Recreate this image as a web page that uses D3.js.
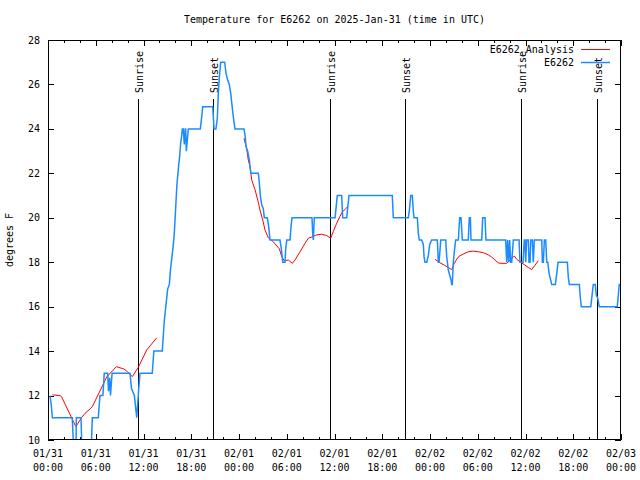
<!DOCTYPE html>
<html><head><meta charset="utf-8">
<script src="https://cdn.jsdelivr.net/npm/d3@7"></script>
<style>
body{margin:0;background:#fff}
text{font-family:"DejaVu Sans Mono",monospace;font-size:10px;fill:#000}
</style>
</head><body><svg id="c" width="640" height="480"></svg>
<script>
const title = "Temperature for E6262 on 2025-Jan-31 (time in UTC)";
const yLabel = "degrees F";
const seriesNames = ["E6262_Analysis", "E6262"];
const yTicks = [10, 12, 14, 16, 18, 20, 22, 24, 26, 28];
const xTickDates = ["01/31","01/31","01/31","01/31","02/01","02/01","02/01","02/01","02/02","02/02","02/02","02/02","02/03"];
const xTickTimes = ["00:00","06:00","12:00","18:00","00:00","06:00","12:00","18:00","00:00","06:00","12:00","18:00","00:00"];
const eventLabels = ["Sunrise","Sunset","Sunrise","Sunset","Sunrise","Sunset"];
const eventHours = [11.31, 20.73, 35.44, 44.86, 59.44, 68.99];

// observations: [hours since 2025-01-31 00:00 UTC, temperature F]
const obsPoints = [
[0.25,12],[0.4,11.6],[0.55,11],[3.05,11],[3.3,9],[3.5,9],[3.56,11],[4.15,11],[4.3,9],[5.37,9],[5.57,11],
[6.32,11],[6.53,12],[6.9,12],[7.07,13],[7.5,13],[7.6,12.2],[7.75,12.8],[7.85,12],[8.05,13],
[10.3,13],[10.5,12.3],[10.85,12],[11.0,11.5],[11.15,11],[11.4,12.3],[11.56,13],[13.1,13],[13.3,14],[14.36,14],
[14.5,14.75],[14.6,15.3],[14.8,16],[15.04,16.8],[15.25,17],[15.4,17.7],[15.58,18.25],[15.75,18.8],[15.87,19.3],
[16.05,20.5],[16.2,21.5],[16.38,22.2],[16.55,22.8],[16.67,23.35],[16.8,23.7],[16.88,24],[17.0,24],[17.13,23.3],
[17.25,24],[17.3,24],[17.38,23],[17.63,24],[19.14,24],[19.3,24.5],[19.44,25],[20.7,25],[20.86,24],[21.1,24],
[21.28,24.5],[21.4,25.6],[21.53,26.35],[21.7,27],[22.2,27],[22.37,26.5],[22.58,26.2],[22.78,26],[22.96,25.6],
[23.08,25.2],[23.2,24.8],[23.37,24.3],[23.5,24],[24.63,24],[24.8,23.6],[24.88,23.2],[25.09,23],[25.3,22.6],
[25.42,22.2],[25.51,22],[26.43,22],[26.55,21.6],[26.68,21],[26.85,20.6],[27.06,20.4],[27.18,20],[27.56,20],
[27.73,19.6],[27.9,19],[29.15,19],[29.32,18.6],[29.49,18],[29.78,18],[29.87,18.6],[30.0,19],[30.41,19],
[30.54,19.6],[30.66,20],[33.17,20],[33.26,19.3],[33.34,19],[33.46,20],[36.07,20],[36.35,21],[36.9,21],
[37.03,20],[37.53,20],[37.82,21],[43.26,21],[43.39,20],[45.27,20],[45.4,20.3],[45.58,21],[45.78,21],
[45.9,20.3],[45.99,20],[46.41,20],[46.53,19.3],[46.66,19],[46.96,19],[47.16,18.8],[47.25,18.25],[47.37,18],
[47.59,18],[47.79,18.3],[47.96,18.8],[48.21,19],[48.92,19],[49.05,18],[49.14,18],[49.35,19],[49.97,19],
[50.1,18.25],[50.3,17.65],[50.64,17.2],[50.73,17],[50.8,17],[50.93,18],[51.06,18.5],[51.23,19],[51.56,19],
[51.73,20],[51.9,20],[52.06,19],[52.81,19],[52.94,20],[53.07,20],[53.15,19],[54.5,19],[54.62,20],[54.91,20],
[55.03,19],[57.51,19],[57.64,18],[57.76,19],[57.89,18],[58.01,19],[58.14,18],[58.27,18],[58.47,19],[59.19,19],
[59.31,18],[59.69,18],[59.85,19],[59.94,19],[60.02,18],[60.15,19],[60.36,19],[60.44,18],[60.57,18],[60.66,19],
[60.86,19],[60.98,18],[61.11,19],[62.04,19],[62.12,18],[62.24,18],[62.37,19],[62.54,19],[62.67,18],[62.8,18],
[62.96,17.5],[63.3,17],[63.75,17],[63.93,17.5],[64.09,18],[65.26,18],[65.38,17.3],[65.51,17],[66.76,17],
[66.89,16.4],[67.02,16],[68.2,16],[68.36,16.5],[68.52,17],[68.77,17],[68.9,16.5],[69.07,16.4],[69.27,16],
[71.53,16],[71.66,16.5],[71.78,17],[72,17]
];

// analysis segments
const anaSeg1 = [[0.54,12.03],[1.5,12.0],[1.7,11.95],[3.5,10.6],[4.2,11.0],[4.65,11.2],[5.3,11.4],[5.57,11.5],
[7.4,12.85],[8.6,13.3],[9.5,13.2],[10.0,13.07],[10.6,12.85],[11.35,13.27],[12.4,14.05],[13.66,14.6]];
const anaSeg2 = [[24.63,23.58],[24.97,23.1],[25.17,22.6],[25.38,22.3],[25.6,21.7],[26.01,21.27],[26.43,20.7],
[26.64,20.35],[26.98,19.9],[27.27,19.45],[27.68,19.1],[28.31,18.92],[29.07,18.6],[29.37,18.25],[29.7,18.06],
[30.2,18.1],[30.7,17.95],[31.04,18.1],[31.67,18.47],[32.29,18.85],[32.71,19.08],[33.26,19.15],[33.76,19.23],
[34.39,19.26],[35.02,19.2],[35.52,19.08],[35.85,19.38],[36.28,19.76],[36.69,20.06],[36.94,20.25],[37.32,20.38],[37.66,20.5]];
const anaSeg3 = [[48.63,18.13],[49.26,17.97],[49.8,17.87],[50.3,17.76],[50.73,17.67],[51.06,17.95],[51.36,18.14],
[51.68,18.28],[52.19,18.37],[52.8,18.47],[53.44,18.5],[54.07,18.47],[54.7,18.43],[55.33,18.33],[55.75,18.23],
[56.17,18.1],[56.58,17.97],[56.92,17.95],[57.64,17.95],[57.84,18.02],[58.27,18.17],[58.6,18.28],[58.9,18.13],
[59.19,18.05],[59.52,17.97],[59.94,17.87],[60.36,17.76],[60.78,17.67],[61.2,17.87],[61.61,18.07]];

const t0 = Date.UTC(2025, 0, 31);
const toDate = h => new Date(t0 + h * 3600000);

const L = 48, R = 621, T = 40, B = 440;
const svg = d3.select("#c");
const x = d3.scaleUtc().domain([toDate(0), toDate(72)]).range([L, R]);
const y = d3.scaleLinear().domain([10, 28]).range([B, T]);

svg.append("defs").append("clipPath").attr("id", "clip")
  .append("rect").attr("x", L).attr("y", T).attr("width", R - L).attr("height", B - T);

const majorTicks = d3.utcHour.every(6).range(toDate(0), toDate(72.01));
const minorTicks = d3.utcHour.every(2).range(toDate(0), toDate(72.01));

// ticks
const g = svg.append("g").attr("stroke", "#000").attr("stroke-width", 1).attr("shape-rendering", "crispEdges");
minorTicks.forEach(d => {
  const xx = Math.round(x(d)) + 0.5;
  g.append("line").attr("x1", xx).attr("x2", xx).attr("y1", B).attr("y2", B - 3);
  g.append("line").attr("x1", xx).attr("x2", xx).attr("y1", T).attr("y2", T + 3);
});
majorTicks.forEach(d => {
  const xx = Math.round(x(d)) + 0.5;
  g.append("line").attr("x1", xx).attr("x2", xx).attr("y1", B).attr("y2", B - 6);
  g.append("line").attr("x1", xx).attr("x2", xx).attr("y1", T).attr("y2", T + 6);
});
yTicks.forEach(v => {
  const yy = Math.round(y(v)) + 0.5;
  g.append("line").attr("x1", L).attr("x2", L + 6).attr("y1", yy).attr("y2", yy);
  g.append("line").attr("x1", R).attr("x2", R - 6).attr("y1", yy).attr("y2", yy);
});

// tick labels
majorTicks.forEach((d, i) => {
  svg.append("text").attr("x", x(d)).attr("y", 457).attr("text-anchor", "middle").text(xTickDates[i]);
  svg.append("text").attr("x", x(d)).attr("y", 471).attr("text-anchor", "middle").text(xTickTimes[i]);
});
yTicks.forEach(v => {
  svg.append("text").attr("x", 40).attr("y", y(v) + 3.5).attr("text-anchor", "end").text(v);
});

// title and axis label
svg.append("text").attr("x", (L + R) / 2).attr("y", 23).attr("text-anchor", "middle").text(title);
svg.append("text").attr("transform", `translate(13,${(T + B) / 2}) rotate(-90)`).attr("text-anchor", "middle").text(yLabel);

// event lines
eventHours.forEach((h, i) => {
  const xx = Math.round(x(toDate(h))) + 0.5;
  g.append("line").attr("x1", xx).attr("x2", xx).attr("y1", 99).attr("y2", B);
  svg.append("text").attr("transform", `translate(${xx + 4.5},93) rotate(-90)`).attr("text-anchor", "start").text(eventLabels[i]);
});

// data lines
const line = d3.line().x(d => x(toDate(d[0]))).y(d => y(d[1]));
const plot = svg.append("g").attr("clip-path", "url(#clip)");
[anaSeg1, anaSeg2, anaSeg3].forEach(seg => {
  plot.append("path").attr("d", line(seg)).attr("fill", "none").attr("stroke", "#ff0000").attr("stroke-width", 1);
});
plot.append("path").attr("d", line(obsPoints)).attr("fill", "none").attr("stroke", "#1a8cff").attr("stroke-width", 1.5);

// frame
svg.append("rect").attr("x", L + 0.5).attr("y", T + 0.5).attr("width", R - L - 1).attr("height", B - T - 1)
  .attr("fill", "none").attr("stroke", "#000").attr("shape-rendering", "crispEdges");

// legend
const legColors = ["#ff0000", "#1a8cff"];
seriesNames.forEach((n, i) => {
  const yy = 49.5 + i * 13;
  svg.append("text").attr("x", 574).attr("y", yy + 3.5).attr("text-anchor", "end").text(n);
  svg.append("line").attr("x1", 581).attr("x2", 610).attr("y1", yy).attr("y2", yy)
    .attr("stroke", legColors[i]).attr("stroke-width", i ? 1.5 : 1);
});
</script>
</body></html>
